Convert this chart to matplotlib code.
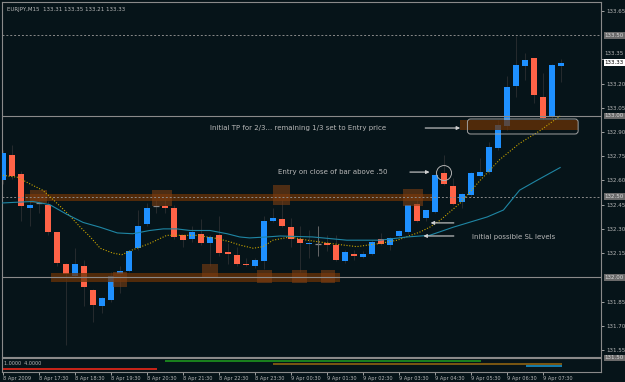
import numpy as np
import matplotlib.pyplot as plt
import matplotlib.transforms as mtransforms
from matplotlib.patches import Rectangle, Ellipse, FancyBboxPatch

# EURJPY M15, 8-9 Apr 2009 -- one entry per bar
opens = [132.60, 132.76, 132.64, 132.43, 132.46, 132.45, 132.28, 132.08, 132.01, 132.07,
         131.92, 131.82, 131.86, 132.02, 132.04, 132.18, 132.33, 132.44, 132.44, 132.43,
         132.26, 132.24, 132.27, 132.21, 132.26, 132.155, 132.14, 132.085, 132.07, 132.10,
         132.35, 132.36, 132.31, 132.235, 132.205, 132.205, 132.215, 132.20, 132.10, 132.145,
         132.125, 132.145, 132.24, 132.20, 132.255, 132.28, 132.455, 132.365, 132.405, 132.645,
         132.565, 132.465, 132.51, 132.63, 132.65, 132.80, 132.935, 133.185, 133.31, 133.36,
         133.115, 132.995, 133.31]
highs = [132.79, 132.82, 132.66, 132.47, 132.49, 132.47, 132.28, 132.09, 132.18, 132.11,
         131.93, 131.88, 132.03, 132.07, 132.17, 132.42, 132.46, 132.48, 132.49, 132.45,
         132.26, 132.32, 132.36, 132.26, 132.38, 132.21, 132.19, 132.12, 132.12, 132.38,
         132.43, 132.48, 132.37, 132.32, 132.29, 132.32, 132.26, 132.26, 132.17, 132.17,
         132.16, 132.23, 132.275, 132.25, 132.29, 132.45, 132.50, 132.42, 132.64, 132.76,
         132.615, 132.52, 132.65, 132.74, 132.84, 132.975, 133.25, 133.495, 133.39, 133.36,
         133.265, 133.32, 133.35]
lows = [132.58, 132.61, 132.35, 132.32, 132.40, 132.26, 132.07, 131.58, 132.00, 131.82,
        131.72, 131.78, 131.85, 131.90, 132.03, 132.17, 132.32, 132.40, 132.40, 132.24,
        132.19, 132.22, 132.20, 132.07, 132.13, 132.08, 132.07, 132.07, 132.06, 132.05,
        132.34, 132.31, 132.19, 132.03, 132.12, 132.13, 132.16, 132.10, 132.09, 132.11,
        132.12, 132.14, 132.20, 132.17, 132.25, 132.27, 132.34, 132.35, 132.40, 132.57,
        132.45, 132.43, 132.50, 132.62, 132.64, 132.79, 132.91, 133.115, 133.22, 133.08,
        132.98, 132.99, 133.21]
closes = [132.77, 132.63, 132.44, 132.45, 132.46, 132.28, 132.09, 132.02, 132.08, 131.94,
          131.83, 131.87, 132.01, 132.04, 132.16, 132.32, 132.43, 132.44, 132.43, 132.25,
          132.23, 132.28, 132.21, 132.25, 132.15, 132.145, 132.08, 132.075, 132.11, 132.35,
          132.37, 132.32, 132.24, 132.215, 132.215, 132.205, 132.20, 132.11, 132.155, 132.135,
          132.145, 132.22, 132.205, 132.245, 132.285, 132.445, 132.35, 132.415, 132.635, 132.58,
          132.455, 132.515, 132.645, 132.655, 132.805, 132.945, 133.18, 133.315, 133.345, 133.13,
          132.99, 133.315, 133.33]

# moving averages (bar index, price)
fast_x = [-0.3, 1.6, 3.3, 4.4, 5.6, 7.1, 8.6, 9.7, 10.8, 12.2, 13.2, 14.4, 16.3, 18.2, 19.7,
          21.6, 23.8, 25.2, 26.3, 27.8, 28.9, 30.0, 31.9, 33.8, 36.3, 39.3, 41.9, 43.8, 46.3,
          47.4, 48.6, 50.8, 53.0, 55.2, 57.4, 59.7, 61.9]
fast_y = [132.634, 132.62, 132.57, 132.54, 132.48, 132.40, 132.31, 132.25, 132.18, 132.15,
          132.14, 132.17, 132.21, 132.26, 132.26, 132.26, 132.24, 132.22, 132.20, 132.18,
          132.19, 132.23, 132.25, 132.23, 132.21, 132.19, 132.21, 132.23, 132.28, 132.31,
          132.355, 132.46, 132.60, 132.73, 132.83, 132.91, 133.00]
slow_x = [-0.3, 3.3, 5.2, 7.1, 8.9, 10.8, 12.7, 14.4, 16.3, 17.8, 19.3, 20.8, 23.0, 24.9,
          26.3, 27.4, 29.3, 30.8, 34.4, 38.2, 41.9, 44.9, 47.4, 50.0, 53.8, 55.6, 57.4, 59.3, 61.9]
slow_y = [132.46, 132.47, 132.45, 132.39, 132.34, 132.31, 132.275, 132.27, 132.29, 132.30,
          132.30, 132.29, 132.29, 132.27, 132.25, 132.244, 132.25, 132.256, 132.25, 132.23,
          132.23, 132.25, 132.26, 132.31, 132.374, 132.417, 132.54, 132.60, 132.68]

# horizontal levels
solid_levels = [133.00, 132.00]
dotted_levels = [133.50, 132.50]

# zones (x from, x to, price low, price high)
zones = [(2.4, 47.7, 132.475, 132.516), (5.3, 37.4, 131.968, 132.024), (50.8, 63.9, 132.913, 132.975)]
zone_boxes = [(3.0, 4.9, 132.46, 132.54), (16.6, 18.8, 132.44, 132.54), (30.0, 31.9, 132.45, 132.57),
              (44.4, 46.7, 132.44, 132.55), (12.2, 13.8, 131.94, 132.033), (22.1, 23.9, 131.996, 132.08),
              (28.2, 29.9, 131.965, 132.045), (32.1, 33.8, 131.965, 132.045), (35.3, 36.9, 131.965, 132.045)]

time_idx = [0, 4, 8, 12, 16, 20, 24, 28, 32, 36, 40, 44, 48, 52, 56, 60]
time_lbl = ['8 Apr 2009', '8 Apr 17:30', '8 Apr 18:30', '8 Apr 19:30', '8 Apr 20:30', '8 Apr 21:30',
            '8 Apr 22:30', '8 Apr 23:30', '9 Apr 00:30', '9 Apr 01:30', '9 Apr 02:30', '9 Apr 03:30',
            '9 Apr 04:30', '9 Apr 05:30', '9 Apr 06:30', '9 Apr 07:30']
price_ticks = [133.65, 133.20, 133.05, 132.90, 132.75, 132.60, 132.45, 132.30,
               132.15, 131.85, 131.70, 131.55]
crowded_tick = 133.35
box_prices = [133.50, 133.00, 132.50, 132.00, 131.50]

# bottom indicator segments (start bar, end bar, level)
ind_red = (0, 17.1, 0.21)
ind_green = (18, 53.1, 0.75)
ind_brown = (30, 62.1, 0.57)
ind_blue = (58.1, 62.1, 0.43)

bg = '#061419'
fg = '#b8b8b8'
grey = '#8a8a8a'
bull = '#1e90ff'
bear = '#ff6347'
zone_col = '#6a3206'
box_col = '#7e3e12'

fig = plt.figure(figsize=(6.25, 3.82), dpi=100, facecolor=bg)
ax = fig.add_axes([0.0032, 0.0654, 0.9584, 0.9294], facecolor=bg)
ax2 = fig.add_axes([0.0032, 0.026, 0.9584, 0.037], facecolor=bg)

o = np.array(opens); h = np.array(highs); l = np.array(lows); c = np.array(closes)
x = np.arange(len(o))
up = c > o
dn = c < o
fl = c == o

ax.vlines(x, l, h, color='#262b2e', lw=0.7, zorder=2)
ax.bar(x[up], (c - o)[up], bottom=o[up], width=0.6, color=bull, zorder=3)
ax.bar(x[dn], (o - c)[dn], bottom=c[dn], width=0.6, color=bear, zorder=3)
ax.hlines(c[fl], x[fl] - 0.32, x[fl] + 0.32, color=grey, lw=0.9, zorder=3)
ax.vlines([35], 132.13, 132.32, color='#707070', lw=0.6, zorder=3)

for lv in solid_levels:
    ax.axhline(lv, color=grey, lw=0.8, zorder=4)
for lv in dotted_levels:
    ax.axhline(lv, color=grey, lw=0.7, ls=(0, (2, 2)), zorder=4)

for x0, x1, p0, p1 in zones:
    ax.add_patch(Rectangle((x0, p0), x1 - x0, p1 - p0, facecolor=zone_col, edgecolor='none',
                           alpha=0.75, zorder=3.5))
for x0, x1, p0, p1 in zone_boxes:
    ax.add_patch(Rectangle((x0, p0), x1 - x0, p1 - p0, facecolor=box_col, edgecolor='none',
                           alpha=0.6, zorder=3.6))

ax.plot(fast_x, fast_y, color='#c8a400', lw=0.8, ls=(0, (1, 1.5)), zorder=5)
ax.plot(slow_x, slow_y, color='#1f86a4', lw=0.8, zorder=5)

# rounded frame round the TP zone
asp = 9 / 161.4
ax.add_patch(FancyBboxPatch((51.6, 132.888), 12.3, 0.093, boxstyle='round,pad=0,rounding_size=0.35',
                            mutation_aspect=asp, facecolor='none', edgecolor='#a0a0a0', lw=0.7, zorder=6))
ax.add_patch(Ellipse((49, 132.646), 1.67, 0.093, facecolor='none', edgecolor='#b0b0b0', lw=0.7, zorder=6))

arrow = dict(arrowstyle='-|>', color='#d0d0d0', lw=0.8, mutation_scale=5)
tsize = 5
ax.annotate('', xy=(51.1, 132.925), xytext=(46.6, 132.925), arrowprops=arrow, zorder=7)
ax.text(23.0, 132.925, 'Initial TP for 2/3... remaining 1/3 set to Entry price', color=fg,
        fontsize=tsize, va='center', ha='left', zorder=7)
ax.annotate('', xy=(47.7, 132.652), xytext=(44.9, 132.652), arrowprops=arrow, zorder=7)
ax.text(30.6, 132.652, 'Entry on close of bar above .50', color=fg, fontsize=tsize,
        va='center', ha='left', zorder=7)
ax.annotate('', xy=(47.2, 132.337), xytext=(50.4, 132.337), arrowprops=arrow, zorder=7)
ax.annotate('', xy=(46.4, 132.256), xytext=(50.4, 132.256), arrowprops=arrow, zorder=7)
ax.text(52.1, 132.25, 'Initial possible SL levels', color=fg, fontsize=tsize,
        va='center', ha='left', zorder=7)

ax.set_xlim(-0.11, 66.44)
ax.set_ylim(131.506, 133.706)
ax.yaxis.tick_right()
ax.set_yticks(price_ticks + [crowded_tick])
ax.set_yticklabels(['%.2f' % p for p in price_ticks] + [''])
ax.tick_params(axis='y', colors=fg, labelsize=4, length=2, width=0.6, pad=1.5)
ax.set_xticks([])
for s in ax.spines.values():
    s.set_color(grey)
    s.set_linewidth(0.8)
ax.spines['bottom'].set_linestyle((0, (2, 1)))

trans = mtransforms.blended_transform_factory(ax.transAxes, ax.transData)
# 133.35 sits right above the current-price box
ax.text(1.006, crowded_tick + 0.022, '%.2f' % crowded_tick, transform=trans, fontsize=4, color=fg,
        va='bottom', ha='left', clip_on=False)
for p in box_prices:
    ax.text(1.006, p, '%.2f' % p, transform=trans, fontsize=4, color='#dcdcdc', va='center', ha='left',
            bbox=dict(boxstyle='square,pad=0.15', facecolor='#6a6a6a', edgecolor='none'), clip_on=False)
ax.text(1.006, closes[-1], '%.2f' % closes[-1], transform=trans, fontsize=4, color='black',
        va='center', ha='left', bbox=dict(boxstyle='square,pad=0.15', facecolor='white', edgecolor='none'),
        clip_on=False)

ax.text(0.008, 0.985, 'EURJPY,M15  133.31 133.35 133.21 133.33', transform=ax.transAxes,
        fontsize=4, color=fg, va='top', ha='left')

# indicator window
for seg, col in [(ind_red, '#ff2a1a'), (ind_green, '#1fa01f'), (ind_brown, '#9a6a10'), (ind_blue, '#1a9ad6')]:
    ax2.hlines(seg[2], seg[0], seg[1], color=col, lw=1.1)
ax2.text(0.004, 0.62, '1.0000  4.0000', transform=ax2.transAxes, fontsize=3.5, color=fg,
         va='center', ha='left')
ax2.set_xlim(-0.11, 66.44)
ax2.set_ylim(0, 1)
ax2.set_yticks([])
for s in ax2.spines.values():
    s.set_color(grey)
    s.set_linewidth(0.8)
ax2.spines['top'].set_linestyle((0, (2, 1)))
ax2.set_xticks(time_idx)
ax2.set_xticklabels(time_lbl)
ax2.tick_params(axis='x', colors=fg, labelsize=3.6, length=2, width=0.6, pad=0.5)
for t in ax2.get_xticklabels():
    t.set_ha('left')

fig.savefig('out.png', dpi=100, facecolor=bg)
